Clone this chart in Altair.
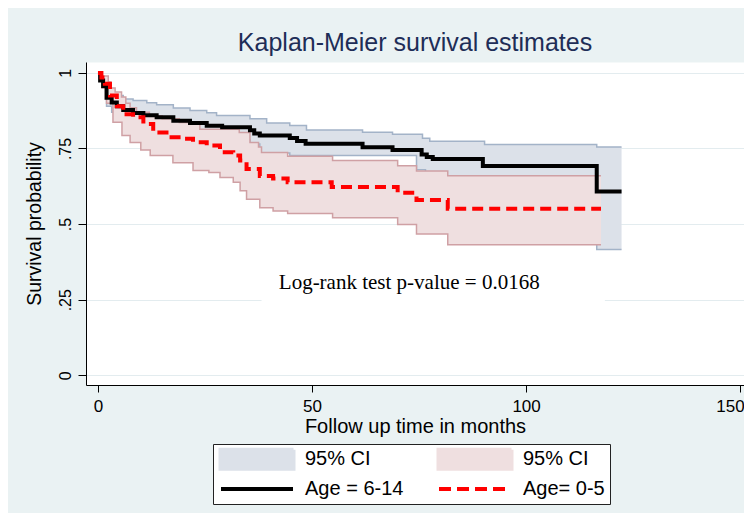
import altair as alt
import pandas as pd

# ---- Age 6-14 (black) Kaplan-Meier estimate and 95% CI ----
older_t = [0, 0.5, 1.2, 2.0, 3.2, 4.4, 5.9, 8.2, 10.6, 13.7, 17.6, 21.5, 25.4, 29.0, 35.5, 36.5,
           37.8, 44.8, 46.5, 48.5, 61.8, 68.8, 75.6, 76.8, 78.2, 89.9, 116.5, 122.3]
older_s = [1.0, 0.975, 0.957, 0.918, 0.902, 0.89, 0.877, 0.867, 0.86, 0.853, 0.842, 0.834, 0.825, 0.82, 0.81, 0.80,
           0.793, 0.785, 0.775, 0.766, 0.754, 0.745, 0.73, 0.722, 0.715, 0.692, 0.608, 0.608]
older_hi_t = [0, 1.0, 2.0, 3.6, 5.9, 8.2, 11.4, 13.7, 17.6, 21.5, 25.4, 27.7, 35.5, 39.4, 44.8, 48.7,
              61.8, 68.8, 75.8, 77.5, 90.3, 116.5, 122.3]
older_hi = [1.0, 0.97, 0.942, 0.925, 0.914, 0.909, 0.901, 0.895, 0.884, 0.876, 0.868, 0.859, 0.848, 0.834, 0.826, 0.811,
            0.804, 0.797, 0.784, 0.774, 0.763, 0.755, 0.755]
older_lo_t = [0, 1.0, 2.0, 3.2, 4.4, 5.9, 8.2, 10.6, 13.7, 17.6, 21.5, 25.4, 35.5, 37.8, 44.8, 74.4,
              76.5, 78.2, 89.9, 116.5, 122.3]
older_lo = [1.0, 0.95, 0.89, 0.87, 0.855, 0.84, 0.828, 0.82, 0.812, 0.8, 0.79, 0.78, 0.765, 0.735, 0.727, 0.68,
            0.655, 0.645, 0.62, 0.416, 0.416]

# ---- Age 0-5 (red) Kaplan-Meier estimate and 95% CI ----
young_t = [0, 0.8, 1.6, 2.8, 4.4, 5.9, 8.2, 10.6, 12.9, 16.0, 20.0, 22.2, 25.4, 28.5, 31.6, 33.2, 34.7,
           37.8, 40.9, 44.3, 54.6, 70.0, 74.4, 81.7, 117.5]
young_s = [1.0, 0.985, 0.964, 0.925, 0.89, 0.863, 0.853, 0.831, 0.803, 0.787, 0.782, 0.771, 0.76, 0.738, 0.727, 0.71, 0.682,
           0.659, 0.651, 0.638, 0.623, 0.604, 0.58, 0.551, 0.551]
young_hi_t = [0, 1.0, 2.4, 3.0, 4.0, 5.5, 6.5, 7.5, 9.0, 12.0, 15.0, 19.0, 23.8, 33.0, 35.5, 37.5, 38.2,
              44.3, 54.8, 70.0, 74.4, 81.7, 117.5]
young_hi = [1.0, 0.99, 0.97, 0.95, 0.937, 0.92, 0.9, 0.885, 0.87, 0.858, 0.848, 0.836, 0.814, 0.803, 0.77, 0.755, 0.737,
            0.724, 0.71, 0.693, 0.676, 0.66, 0.66]
young_lo_t = [0, 0.9, 2.0, 3.5, 5.6, 7.5, 10.0, 12.2, 17.5, 22.2, 25.9, 28.5, 31.6, 33.2, 34.7, 37.8, 40.9,
              44.3, 54.8, 70.0, 74.4, 81.7, 117.5]
young_lo = [1.0, 0.95, 0.9, 0.837, 0.793, 0.77, 0.745, 0.727, 0.703, 0.677, 0.671, 0.654, 0.638, 0.61, 0.582, 0.554, 0.543,
            0.535, 0.521, 0.499, 0.467, 0.432, 0.432]

series_keys = ["ci1", "ci2", "s1", "s2"]
series_labels = ["95% CI", "95% CI", "Age = 6-14", "Age= 0-5"]
series_colors = ["#DCE1E9", "#EFDFE0", "#000000", "#FF0000"]
edge_colors = {"ci1": "#A3B3C8", "ci2": "#CFA0A4"}

x_ticks = [0, 50, 100, 150]
y_ticks = [0, 0.25, 0.5, 0.75, 1]
annotation = "Log-rank test p-value = 0.0168"


def band(t_hi, v_hi, t_lo, v_lo, key):
    grid = sorted(set(t_hi) | set(t_lo))
    hi = pd.Series(v_hi, index=t_hi).reindex(grid).ffill()
    lo = pd.Series(v_lo, index=t_lo).reindex(grid).ffill()
    return pd.DataFrame({"t": grid, "hi": hi.values, "lo": lo.values, "series": key})


def curve(t, v, key):
    return pd.DataFrame({"t": t, "v": v, "series": key})


band_old = band(older_hi_t, older_hi, older_lo_t, older_lo, "ci1")
band_young = band(young_hi_t, young_hi, young_lo_t, young_lo, "ci2")

FONT = "Liberation Sans"

xs = alt.Scale(domain=[-2.8, 150.9], nice=False, zero=False)
ys = alt.Scale(domain=[-0.032, 1.036], nice=False, zero=False)

x_axis = alt.Axis(values=x_ticks, grid=False, tickSize=7, labelPadding=6, labelFontSize=17,
                  labelFont=FONT, labelColor="black", titleFont=FONT, titleFontSize=20,
                  titleFontWeight="normal", titleColor="black", titlePadding=2,
                  domainColor="black", tickColor="black", labelFlush=6, labelFlushOffset=4)
y_axis = alt.Axis(values=y_ticks, grid=True, gridColor="#E3ECEF", gridWidth=1, tickSize=8,
                  labelAngle=-90, labelAlign="center", labelBaseline="bottom", labelPadding=5,
                  labelFontSize=16, labelFont=FONT, labelColor="black",
                  labelExpr="datum.value == 0 ? '0' : datum.value == 1 ? '1' : replace(format(datum.value, '.2~f'), '0.', '.')",
                  titleFont=FONT, titleFontSize=19.5, titleFontWeight="normal", titleColor="black",
                  titlePadding=13, domainColor="black", tickColor="black", labelFlush=False)

X = alt.X("t:Q", scale=xs, axis=x_axis, title="Follow up time in months")


def Y(field):
    return alt.Y(field, type="quantitative", scale=ys, axis=y_axis, title="Survival probability")


legend = alt.Legend(
    title=None, orient="none", legendX=127, legendY=382, columns=2, direction="horizontal",
    symbolType={"expr": "datum.value == 'ci1' || datum.value == 'ci2' ? 'M-4.5625,-1.19H4.5625V1.19H-4.5625Z' : 'M-4.5,0H4.5'"},
    symbolSize=256,
    symbolFillColor={"expr": "datum.value == 'ci1' ? '#DCE1E9' : datum.value == 'ci2' ? '#EFDFE0' : 'transparent'"},
    symbolStrokeColor={"expr": "datum.value == 's1' ? '#000000' : datum.value == 's2' ? '#FF0000' : 'transparent'"},
    symbolDash={"expr": "datum.value == 's2' ? [12, 6] : [1, 0]"},
    symbolStrokeWidth=4, symbolOpacity=1, symbolOffset=29, labelOffset=38,
    labelExpr="datum.value == 's1' ? 'Age = 6-14' : datum.value == 's2' ? 'Age= 0-5' : '95% CI'",
    labelFont=FONT, labelFontSize=20, labelColor="black", labelLimit=300,
    columnPadding=26, rowPadding=2, padding=5, strokeColor="#222222", fillColor="white",
)
color = alt.Color("series:N", scale=alt.Scale(domain=series_keys, range=series_colors), legend=legend)

area_old = alt.Chart(band_old).mark_area(interpolate="step-after", opacity=1).encode(
    x=X, y=Y("hi"), y2="lo", color=color)
edges_old = alt.layer(*[
    alt.Chart(band_old).mark_line(interpolate="step-after", color=edge_colors["ci1"], strokeWidth=1.5).encode(x=X, y=Y(f))
    for f in ["hi", "lo"]])
area_young = alt.Chart(band_young).mark_area(interpolate="step-after", opacity=1).encode(
    x=X, y=Y("hi"), y2="lo", color=color)
edges_young = alt.layer(*[
    alt.Chart(band_young).mark_line(interpolate="step-after", color=edge_colors["ci2"], strokeWidth=1.5).encode(x=X, y=Y(f))
    for f in ["hi", "lo"]])
line_old = alt.Chart(curve(older_t, older_s, "s1")).mark_line(interpolate="step-after", strokeWidth=4).encode(
    x=X, y=Y("v"), color=color)
line_young = alt.Chart(curve(young_t, young_s, "s2")).mark_line(
    interpolate="step-after", strokeWidth=4, strokeDash=[11, 6]).encode(x=X, y=Y("v"), color=color)

box = alt.Chart(pd.DataFrame({"a": [0]})).mark_rect(color="white").encode(
    x=alt.datum(38.2, scale=xs), x2=alt.datum(118.4), y=alt.datum(0.235, scale=ys), y2=alt.datum(0.37))
note = alt.Chart(pd.DataFrame({"a": [0]})).mark_text(
    font="Liberation Serif", fontSize=21, color="black", align="center", baseline="middle").encode(
    x=alt.datum(72.7, scale=xs), y=alt.datum(0.304, scale=ys), text=alt.value(annotation))

chart = alt.layer(area_old, edges_old, area_young, edges_young, line_old, line_young, box, note).properties(
    width=658, height=323,
    title=alt.Title("Kaplan-Meier survival estimates", fontSize=25, font=FONT, fontWeight="normal",
                    color="#1E2D57", anchor="middle", frame="group", offset=6),
    padding={"left": 78, "top": 54, "right": 0, "bottom": 128},
    autosize=alt.AutoSizeParams(type="none"),
    background="#EAF2F3",
).resolve_scale(color="shared").configure_view(fill="white", stroke="transparent")

chart.save("out.html", embed_options={"renderer": "svg", "actions": False})
